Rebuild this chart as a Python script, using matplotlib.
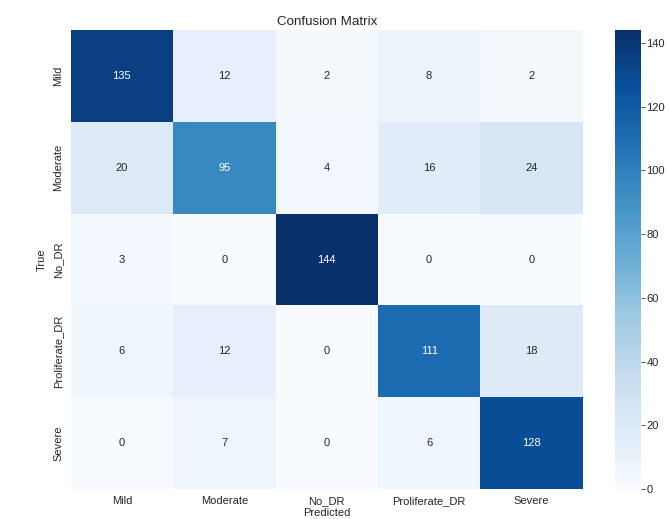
import matplotlib
matplotlib.use('Agg')
import matplotlib.pyplot as plt
import seaborn as sns
import numpy as np

classes = ['Mild', 'Moderate', 'No_DR', 'Proliferate_DR', 'Severe']
row_mild = [135, 12, 2, 8, 2]
row_moderate = [20, 95, 4, 16, 24]
row_no_dr = [3, 0, 144, 0, 0]
row_proliferate = [6, 12, 0, 111, 18]
row_severe = [0, 7, 0, 6, 128]

cm = np.array([row_mild, row_moderate, row_no_dr, row_proliferate, row_severe])

sns.set_style('white')
plt.rcParams['font.family'] = ['Liberation Sans', 'DejaVu Sans']
plt.rcParams['text.color'] = '.15'
plt.rcParams['axes.labelcolor'] = '.15'
plt.rcParams['xtick.color'] = '.15'
plt.rcParams['ytick.color'] = '.15'

W, H, DPI = 669, 519, 66.9
fig = plt.figure(figsize=(W / DPI, H / DPI), dpi=DPI)

# axes placement in pixel terms (reference is a cropped screenshot)
ax = fig.add_axes([70.7 / W, (H - 489) / H, (582.7 - 70.7) / W, (489 - 30) / H])
cax = fig.add_axes([615 / W, (H - 489) / H, (641 - 615) / W, (489 - 30) / H])

sns.heatmap(cm, annot=True, fmt='d', cmap='Blues', vmin=0, vmax=cm.max(),
            xticklabels=classes, yticklabels=classes,
            ax=ax, cbar_ax=cax, annot_kws={'fontsize': 12})

ax.set_title('Confusion Matrix', fontsize=14.4, pad=5)
ax.set_xlabel('Predicted', fontsize=12, labelpad=2)
ax.set_ylabel('True', fontsize=12, labelpad=7)
ax.tick_params(axis='both', length=0, labelsize=12)
ax.tick_params(axis='y', pad=8)
ax.tick_params(axis='x', pad=8)
plt.setp(ax.get_yticklabels(), rotation=90, va='center')

cax.tick_params(labelsize=12, length=4, width=0.8, color='.15', pad=2)
cax.set_yticks([0, 20, 40, 60, 80, 100, 120, 140])

fig.savefig('out.png', dpi=DPI, facecolor='white')
